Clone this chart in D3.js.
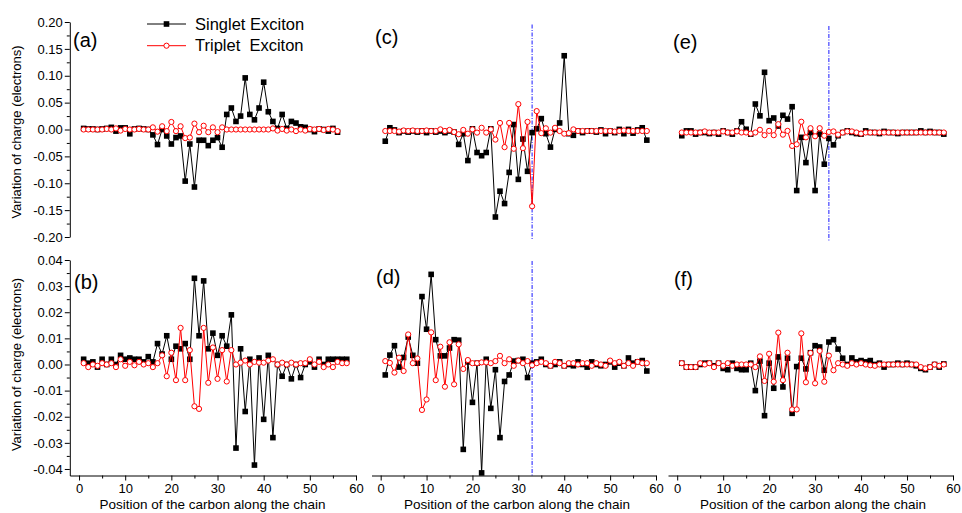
<!DOCTYPE html>
<html>
<head>
<meta charset="utf-8">
<script src="https://cdn.jsdelivr.net/npm/d3@7"></script>
<style>
  body { margin: 0; background: #fff; }
  text { font-family: "Liberation Sans", Arial, Helvetica, sans-serif; }
</style>
</head>
<body>
<svg id="chart" width="962" height="513"></svg>
<script>
// carbon positions along the chain
const positions = [1, 2, 3, 4, 5, 6, 7, 8, 9, 10, 11, 12, 13, 14, 15, 16, 17, 18, 19, 20,
  21, 22, 23, 24, 25, 26, 27, 28, 29, 30, 31, 32, 33, 34, 35, 36, 37, 38, 39, 40,
  41, 42, 43, 44, 45, 46, 47, 48, 49, 50, 51, 52, 53, 54, 55, 56, 57, 58];

const aSinglet = [0.002, 0.001, 0.001, 0.000, 0.001, 0.002, 0.004, -0.003, 0.003, 0.003,
  -0.008, 0.001, 0.002, 0.001, 0.000, -0.010, -0.028, 0.000, -0.012, -0.027,
  -0.015, -0.012, -0.096, -0.027, -0.107, -0.020, -0.020, -0.030, -0.020, -0.015,
  -0.033, 0.028, 0.040, 0.015, 0.025, 0.096, 0.028, 0.018, 0.040, 0.088,
  0.033, 0.015, 0.002, 0.028, 0.002, 0.015, 0.012, 0.005, 0.004, 0.000,
  -0.004, 0.001, 0.000, -0.003, 0.002, -0.005];
const aTriplet = [0.000, 0.000, 0.000, 0.000, 0.000, 0.001, 0.000, 0.002, -0.002, 0.001,
  0.000, 0.000, 0.001, 0.000, 0.000, 0.004, -0.004, 0.006, -0.003, 0.014,
  -0.003, 0.006, -0.016, -0.015, 0.011, -0.005, 0.007, -0.005, 0.004, -0.005,
  0.004, 0.000, 0.000, 0.000, 0.000, 0.000, 0.000, 0.000, 0.000, 0.000,
  0.000, 0.002, -0.002, 0.001, -0.002, 0.000, -0.003, 0.000, -0.002, 0.001,
  0.000, 0.001, -0.001, 0.001, 0.000, -0.003];

const bSinglet = [0.002, 0.0005, 0.001, -0.001, 0.002, 0.000, 0.002, 0.000, 0.0035, 0.002,
  0.0025, 0.002, 0.002, 0.001, 0.003, 0.001, 0.008, 0.004, 0.011, 0.002,
  0.007, 0.006, 0.008, 0.002, 0.033, 0.011, 0.032, 0.006, 0.012, 0.0035,
  0.011, 0.007, 0.019, -0.032, 0.006, -0.018, 0.002, -0.0385, 0.0025, -0.021,
  0.0035, -0.028, 0.000, -0.0045, 0.000, -0.0055, 0.000, -0.005, 0.000, 0.001,
  -0.001, 0.002, 0.000, 0.002, 0.002, 0.002, 0.002, 0.002];
const bTriplet = [0.0005, -0.001, 0.000, -0.0005, 0.0005, 0.000, 0.0005, -0.001, 0.002, -0.0005,
  0.001, -0.0003, 0.001, 0.000, 0.0005, -0.001, 0.0005, 0.0035, -0.0045, 0.0045,
  -0.006, 0.014, -0.006, 0.0055, -0.016, -0.017, 0.014, -0.007, 0.0065, -0.0055,
  0.0055, -0.0065, 0.0055, 0.000, 0.0007, 0.0015, 0.000, 0.001, 0.0007, 0.0007,
  0.0015, 0.002, 0.000, 0.0007, 0.000, 0.0007, 0.000, 0.0005, 0.0005, 0.002,
  0.000, 0.001, -0.001, 0.000, -0.001, 0.001, 0.0005, 0.0005];

const cSinglet = [-0.019, 0.006, 0.002, -0.003, 0.000, -0.002, 0.000, -0.002, 0.000, -0.003,
  0.000, -0.002, 0.000, -0.003, 0.000, -0.002, -0.025, -0.005, -0.055, 0.004,
  -0.040, -0.046, -0.040, 0.004, -0.160, -0.112, -0.135, -0.077, 0.012, -0.090,
  -0.015, -0.075, -0.003, 0.004, 0.023, -0.005, -0.030, 0.003, 0.015, 0.140,
  -0.005, -0.008, 0.000, -0.003, 0.000, 0.000, -0.002, 0.002, -0.005, 0.000,
  -0.003, 0.003, -0.005, 0.003, -0.004, 0.002, 0.006, -0.017];
const cTriplet = [0.000, 0.000, 0.000, -0.001, 0.001, 0.000, 0.001, 0.000, 0.000, 0.001,
  0.000, 0.000, 0.003, 0.000, 0.002, -0.002, -0.006, 0.002, -0.005, 0.003,
  -0.003, 0.006, -0.003, 0.003, -0.016, 0.015, -0.030, 0.015, -0.033, 0.050,
  -0.032, 0.017, -0.140, 0.037, -0.004, 0.005, -0.003, 0.006, 0.000, -0.005,
  -0.004, 0.003, 0.000, 0.000, 0.000, 0.000, 0.000, 0.000, 0.000, 0.000,
  -0.001, 0.000, 0.001, 0.000, 0.000, 0.000, 0.000, 0.000];

const dSinglet = [-0.004, 0.0036, 0.0072, -0.001, 0.0027, 0.0105, 0.0035, 0.0005, 0.026, 0.0135,
  0.0345, 0.0095, 0.0033, 0.0033, 0.0063, 0.0095, 0.0093, -0.0325, 0.001, -0.0145,
  0.0005, -0.0415, 0.002, -0.0168, -0.002, -0.028, -0.0065, -0.004, 0.0013, 0.0015,
  0.002, -0.005, 0.0005, 0.001, 0.002, 0.000, -0.0005, 0.000, 0.001, -0.0005,
  0.000, -0.0005, 0.001, 0.000, -0.001, 0.001, 0.000, -0.0005, 0.000, 0.001,
  -0.001, 0.0005, -0.0005, 0.0025, 0.0005, 0.001, 0.0015, -0.0025];
const dTriplet = [0.0013, 0.0006, -0.0031, 0.0026, -0.0025, 0.0115, 0.0005, 0.0023, -0.0174, -0.0134,
  0.0123, -0.006, 0.0068, -0.0085, 0.0085, -0.0076, 0.0077, -0.0017, 0.0017, 0.0005,
  0.0005, 0.0008, 0.0008, 0.0005, 0.0013, 0.0033, 0.0005, 0.002, -0.0005, 0.0015,
  0.0005, 0.0013, -0.0003, 0.0005, 0.001, 0.0005, -0.0005, 0.001, 0.0005, -0.0005,
  0.0005, 0.0005, 0.000, 0.0005, 0.0005, -0.0005, 0.0005, 0.000, -0.0005, 0.0015,
  0.0005, 0.001, -0.0005, 0.0005, -0.0005, 0.001, 0.0005, 0.0005];

const eSinglet = [-0.006, 0.003, 0.003, -0.003, 0.000, 0.000, -0.002, 0.000, -0.003, 0.003,
  0.000, -0.003, 0.003, 0.020, 0.006, -0.003, 0.053, 0.031, 0.112, 0.022,
  0.027, 0.012, 0.032, 0.025, 0.048, -0.108, -0.009, -0.056, 0.000, -0.108,
  -0.003, -0.059, -0.011, -0.023, -0.006, 0.000, 0.003, 0.000, -0.002, -0.003,
  0.003, 0.000, 0.000, -0.002, 0.002, 0.000, 0.000, -0.002, 0.000, 0.000,
  0.000, 0.000, 0.003, 0.000, 0.002, 0.000, 0.000, -0.003];
const eTriplet = [0.000, 0.000, 0.000, 0.000, 0.000, 0.002, 0.000, 0.000, 0.000, 0.002,
  0.000, 0.000, 0.002, 0.000, 0.000, -0.002, 0.000, 0.005, -0.005, 0.003,
  -0.005, 0.0155, -0.004, 0.003, -0.025, -0.022, 0.020, -0.009, 0.008, -0.007,
  0.008, -0.006, 0.001, 0.002, -0.004, 0.000, 0.002, 0.002, 0.000, -0.002,
  0.000, 0.000, 0.000, 0.000, 0.000, 0.000, 0.000, 0.000, 0.000, 0.000,
  0.000, 0.000, 0.000, 0.000, 0.000, 0.000, 0.000, 0.000];

const fSinglet = [0.0005, -0.001, -0.001, -0.001, 0.000, 0.0005, 0.0005, -0.0005, 0.0005, -0.0015,
  -0.002, 0.0005, -0.0015, -0.002, -0.002, 0.0005, -0.010, 0.0013, -0.0196, 0.0005,
  -0.0091, 0.0029, -0.0086, 0.0024, -0.0187, -0.0008, 0.0024, -0.0017, 0.0045, 0.0072,
  0.0067, -0.0022, 0.0086, 0.0095, 0.0059, 0.0024, 0.000, 0.0025, 0.001, 0.0015,
  0.001, 0.0015, 0.000, 0.0005, -0.001, 0.000, 0.000, 0.0005, 0.000, 0.0005,
  0.000, -0.0005, -0.0015, -0.002, -0.001, 0.000, -0.001, 0.0002];
const fTriplet = [0.0005, -0.001, -0.001, -0.001, 0.0005, 0.000, 0.0005, -0.001, 0.0005, -0.0005,
  0.0005, -0.0005, 0.000, 0.000, 0.000, 0.000, -0.001, 0.0031, -0.0063, 0.0041,
  -0.0066, 0.0122, -0.006, 0.0045, -0.0172, -0.0172, 0.0119, -0.0068, 0.0044, -0.0072,
  0.0052, -0.0066, 0.0034, -0.0022, 0.0005, 0.000, -0.0005, 0.0005, 0.000, 0.0005,
  0.000, -0.0003, -0.0005, 0.000, 0.000, 0.000, 0.000, 0.000, 0.000, 0.000,
  0.000, 0.000, -0.001, -0.0015, -0.001, 0.000, -0.0005, 0.000];

// axis ticks
const xTicks = [0, 10, 20, 30, 40, 50, 60];
const xMinor = [5, 15, 25, 35, 45, 55];
const yTopTicks = [-0.20, -0.15, -0.10, -0.05, 0.00, 0.05, 0.10, 0.15, 0.20];
const yTopMinor = [-0.175, -0.125, -0.075, -0.025, 0.025, 0.075, 0.125, 0.175];
const yBotTicks = [-0.04, -0.03, -0.02, -0.01, 0.00, 0.01, 0.02, 0.03, 0.04];
const yBotMinor = [-0.035, -0.025, -0.015, -0.005, 0.005, 0.015, 0.025, 0.035];

const seriesNames = ["Singlet Exciton", "Triplet  Exciton"];
const xTitle = "Position of the carbon along the chain";
const yTitle = "Variation of charge (electrons)";
const bondPosition = 33; // dash-dot marker in (c), (d), (e)

const panels = [
  { label: "(a)", col: 0, row: 0, s: aSinglet, t: aTriplet, mark: false, lx: 73, ly: 47 },
  { label: "(b)", col: 0, row: 1, s: bSinglet, t: bTriplet, mark: false, lx: 74, ly: 289 },
  { label: "(c)", col: 1, row: 0, s: cSinglet, t: cTriplet, mark: true, lx: 375, ly: 44 },
  { label: "(d)", col: 1, row: 1, s: dSinglet, t: dTriplet, mark: true, lx: 376, ly: 284 },
  { label: "(e)", col: 2, row: 0, s: eSinglet, t: eTriplet, mark: true, lx: 673, ly: 49 },
  { label: "(f)", col: 2, row: 1, s: fSinglet, t: fTriplet, mark: false, lx: 674, ly: 286 }
];

const svg = d3.select("#chart");

const colRanges = [[69.8, 356], [371.5, 656], [668, 953]];
const topShift = [0, 1.5, 3];
const fmt = (d) => d.toFixed(2);

const xCenters = [212.5, 517, 813];

panels.forEach((p) => {
  const x = d3.scaleLinear().domain([-2, 60]).range(colRanges[p.col]);
  const y = p.row === 0
    ? d3.scaleLinear().domain([-0.2, 0.2]).range([237 + topShift[p.col], 22 + topShift[p.col]])
    : d3.scaleLinear().domain([-0.0425, 0.04]).range([475.5, 260]);

  const g = svg.append("g");

  // vertical dash-dot marker
  if (p.mark) {
    g.append("line")
      .attr("x1", x(bondPosition))
      .attr("x2", x(bondPosition))
      .attr("y1", y.range()[1] + 1)
      .attr("y2", y.range()[0] + 1)
      .attr("stroke", "#1a1aff")
      .attr("stroke-width", 1)
      .attr("stroke-dasharray", "4,1.5,1,1.5");
  }

  const line = d3.line()
    .x((d, i) => x(positions[i]))
    .y((d) => y(d));

  // singlet
  g.append("path")
    .datum(p.s)
    .attr("d", line)
    .attr("fill", "none")
    .attr("stroke", "black")
    .attr("stroke-width", 1);

  g.append("g")
    .selectAll("rect")
    .data(p.s)
    .join("rect")
    .attr("x", (d, i) => x(positions[i]) - 2.8)
    .attr("y", (d) => y(d) - 2.8)
    .attr("width", 5.6)
    .attr("height", 5.6)
    .attr("fill", "black");

  // triplet
  g.append("path")
    .datum(p.t)
    .attr("d", line)
    .attr("fill", "none")
    .attr("stroke", "#ff0000")
    .attr("stroke-width", 1);

  g.append("g")
    .selectAll("circle")
    .data(p.t)
    .join("circle")
    .attr("cx", (d, i) => x(positions[i]))
    .attr("cy", (d) => y(d))
    .attr("r", 2.6)
    .attr("fill", "white")
    .attr("stroke", "#ff0000")
    .attr("stroke-width", 1);

  // panel label
  g.append("text")
    .attr("x", p.lx)
    .attr("y", p.ly)
    .attr("font-size", 20)
    .text(p.label);

  // y axis on left column only
  if (p.col === 0) {
    const ticks = p.row === 0 ? yTopTicks : yBotTicks;
    const minor = p.row === 0 ? yTopMinor : yBotMinor;
    const ax = g.append("g")
      .attr("transform", `translate(${x(-2)},0)`)
      .call(d3.axisLeft(y).tickValues(ticks).tickFormat(fmt).tickSize(5).tickSizeOuter(0).tickPadding(2));
    ax.selectAll("text").attr("font-size", 13).attr("font-family", null);
    g.append("g")
      .attr("transform", `translate(${x(-2)},0)`)
      .call(d3.axisLeft(y).tickValues(minor).tickFormat("").tickSize(3))
      .call((a) => a.select(".domain").remove());

    g.append("text")
      .attr("transform", `translate(18,${p.row === 0 ? 132 : 364.5}) rotate(-90)`)
      .attr("text-anchor", "middle")
      .attr("dominant-baseline", "middle")
      .attr("font-size", 13)
      .text(yTitle);
  }

  // x axis on bottom row only
  if (p.row === 1) {
    const ax = g.append("g")
      .attr("transform", `translate(0,${y.range()[0]})`)
      .call(d3.axisBottom(x).tickValues(xTicks).tickFormat(d3.format("d")).tickSize(5).tickSizeOuter(0).tickPadding(3));
    ax.selectAll("text").attr("font-size", 13).attr("font-family", null);
    g.append("g")
      .attr("transform", `translate(0,${y.range()[0]})`)
      .call(d3.axisBottom(x).tickValues(xMinor).tickFormat("").tickSize(3))
      .call((a) => a.select(".domain").remove());

    g.append("text")
      .attr("x", xCenters[p.col])
      .attr("y", 509)
      .attr("text-anchor", "middle")
      .attr("font-size", 13.5)
      .text(xTitle);
  }
});

// legend inside panel (a)
const legend = svg.append("g");
const legendRows = [
  { name: seriesNames[0], color: "black", y: 24 },
  { name: seriesNames[1], color: "#ff0000", y: 45.7 }
];
legendRows.forEach((r, i) => {
  legend.append("line")
    .attr("x1", 147).attr("x2", 186)
    .attr("y1", r.y).attr("y2", r.y)
    .attr("stroke", r.color).attr("stroke-width", 1);
  if (i === 0) {
    legend.append("rect")
      .attr("x", 166.5 - 2.8).attr("y", r.y - 2.8)
      .attr("width", 5.6).attr("height", 5.6)
      .attr("fill", "black");
  } else {
    legend.append("circle")
      .attr("cx", 166.5).attr("cy", r.y).attr("r", 2.6)
      .attr("fill", "white").attr("stroke", r.color);
  }
  legend.append("text")
    .attr("x", 195)
    .attr("y", r.y + 5.5)
    .attr("font-size", 16.5)
    .style("white-space", "pre")
    .text(r.name);
});
</script>
</body>
</html>
